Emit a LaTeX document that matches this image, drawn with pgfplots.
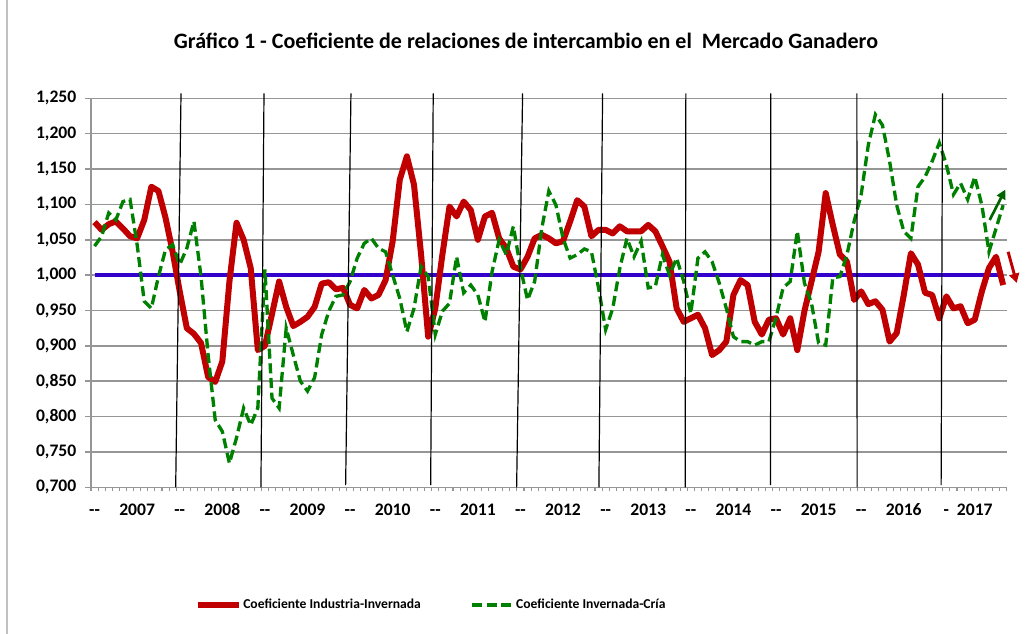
\documentclass[border=0pt]{standalone}
\usepackage{fontspec}
\setmainfont{Carlito}
\usepackage{pgfplots}
\pgfplotsset{compat=1.18}
\usetikzlibrary{arrows.meta}
\definecolor{cRed}{RGB}{192,0,0}
\definecolor{cGreen}{RGB}{0,128,0}
\definecolor{cDGreen}{RGB}{0,100,0}
\definecolor{cBlue}{RGB}{51,0,204}
\definecolor{cGrid}{RGB}{150,150,150}
\newcommand{\dd}{{-}{-}}
\begin{document}
\begin{tikzpicture}
\path[use as bounding box] (0,0) rectangle (775.5pt,-474.75pt);
\draw[cGrid!60, line width=0.8pt] (5.25pt,2pt) -- (5.25pt,-480pt);
\node[font=\bfseries\fontsize{16.5}{19}\selectfont, anchor=base] at (394.5pt,-36.5pt) {Gráfico 1 - Coeficiente de relaciones de intercambio en el\ \ Mercado Ganadero};
\begin{axis}[
  at={(68.25pt,-365.475pt)}, anchor=south west,
  scale only axis, width=686.775pt, height=291.75pt,
  xmin=-0.5, xmax=128.5, ymin=0.7, ymax=1.25,
  clip=false,
  axis x line*=bottom, axis y line*=left,
  axis line style={cGrid, line width=1.2pt},
  tick align=outside,
  major tick length=4.5pt, minor tick length=3pt,
  ytick={0.70,0.75,0.80,0.85,0.90,0.95,1.00,1.05,1.10,1.15,1.20,1.25},
  ymajorgrids, grid style={cGrid, line width=1.2pt},
  major y tick style={cGrid, line width=1.2pt},
  yticklabel style={/pgf/number format/.cd, fixed, fixed zerofill, precision=3, use comma, 1000 sep={}, assume math mode=true, /tikz/.cd, xshift=-3pt},
  xtick={0,6,12,18,24,30,36,42,48,54,60,66,72,78,84,90,96,102,108,114,120,124},
  xticklabels={\dd,2007,\dd,2008,\dd,2009,\dd,2010,\dd,2011,\dd,2012,\dd,2013,\dd,2014,\dd,2015,\dd,2016,-,2017},
  major x tick style={draw=none},
  minor xtick={-0.5,0.5,...,128.5},
  minor x tick style={cGrid, line width=0.8pt},
  xmajorgrids=false, xminorgrids=false,
  ticklabel style={font=\bfseries\fontsize{13.2}{15}\selectfont},
  xticklabel style={anchor=base, yshift=-17pt, text height=1.6ex, text depth=0.2ex},
  legend columns=2,
  legend style={at={(0.371,-0.3026)}, anchor=center, draw=none, fill=none,
    font=\bfseries\fontsize{10.2}{12}\selectfont,
    nodes={inner xsep=1pt},
    /tikz/every even column/.append style={column sep=36pt}},
  legend image code/.code={\draw[#1] (0pt,0pt) -- (31pt,0pt);},
]
\addplot[cBlue, line width=2.5pt, forget plot] coordinates {(0,1.0) (128,1.0)};
\addplot[cRed, line width=4.5pt, line join=round] coordinates {
(0,1.075) (1,1.064) (2,1.072) (3,1.076) (4,1.066) (5,1.055) (6,1.052) (7,1.078) (8,1.125) (9,1.119)
(10,1.081) (11,1.033) (12,0.977) (13,0.925) (14,0.917) (15,0.904) (16,0.856) (17,0.849) (18,0.878) (19,0.991)
(20,1.074) (21,1.050) (22,1.010) (23,0.894) (24,0.900) (25,0.945) (26,0.991) (27,0.955) (28,0.928) (29,0.934)
(30,0.941) (31,0.955) (32,0.988) (33,0.990) (34,0.980) (35,0.982) (36,0.958) (37,0.953) (38,0.979) (39,0.967)
(40,0.972) (41,0.993) (42,1.048) (43,1.135) (44,1.168) (45,1.128) (46,1.029) (47,0.913) (48,0.953) (49,1.029)
(50,1.097) (51,1.083) (52,1.104) (53,1.092) (54,1.050) (55,1.083) (56,1.088) (57,1.052) (58,1.038) (59,1.012)
(60,1.008) (61,1.026) (62,1.052) (63,1.057) (64,1.052) (65,1.045) (66,1.048) (67,1.076) (68,1.106) (69,1.097)
(70,1.055) (71,1.064) (72,1.064) (73,1.059) (74,1.069) (75,1.062) (76,1.062) (77,1.062) (78,1.071) (79,1.062)
(80,1.041) (81,1.019) (82,0.953) (83,0.934) (84,0.939) (85,0.944) (86,0.925) (87,0.887) (88,0.894) (89,0.906)
(90,0.972) (91,0.993) (92,0.986) (93,0.934) (94,0.916) (95,0.937) (96,0.939) (97,0.916) (98,0.939) (99,0.894)
(100,0.949) (101,0.991) (102,1.033) (103,1.116) (104,1.071) (105,1.029) (106,1.019) (107,0.965) (108,0.977) (109,0.959)
(110,0.963) (111,0.951) (112,0.906) (113,0.918) (114,0.972) (115,1.031) (116,1.015) (117,0.975) (118,0.972) (119,0.939)
(120,0.970) (121,0.953) (122,0.956) (123,0.932) (124,0.937) (125,0.977) (126,1.010) (127,1.026) (128,0.986)
};
\addlegendentry{Coeficiente Industria-Invernada}
\addplot[cGreen, line width=2.5pt, dash pattern=on 7.5pt off 3.5pt] coordinates {
(0,1.041) (1,1.055) (2,1.088) (3,1.078) (4,1.104) (5,1.107) (6,1.043) (7,0.963) (8,0.953) (9,0.998)
(10,1.036) (11,1.043) (12,1.015) (13,1.038) (14,1.076) (15,0.998) (16,0.887) (17,0.795) (18,0.779) (19,0.734)
(20,0.770) (21,0.812) (22,0.788) (23,0.812) (24,1.008) (25,0.826) (26,0.812) (27,0.925) (28,0.887) (29,0.850)
(30,0.836) (31,0.855) (32,0.916) (33,0.949) (34,0.970) (35,0.972) (36,0.991) (37,1.024) (38,1.045) (39,1.052)
(40,1.038) (41,1.033) (42,1.000) (43,0.967) (44,0.920) (45,0.953) (46,1.012) (47,0.998) (48,0.916) (49,0.949)
(50,0.960) (51,1.026) (52,0.975) (53,0.986) (54,0.972) (55,0.934) (56,1.005) (57,1.050) (58,1.029) (59,1.069)
(60,1.010) (61,0.965) (62,0.991) (63,1.066) (64,1.119) (65,1.099) (66,1.052) (67,1.024) (68,1.029) (69,1.037)
(70,1.033) (71,0.982) (72,0.923) (73,0.953) (74,1.010) (75,1.052) (76,1.026) (77,1.048) (78,0.982) (79,0.984)
(80,1.029) (81,1.000) (82,1.024) (83,0.991) (84,0.946) (85,1.024) (86,1.033) (87,1.019) (88,0.989) (89,0.953)
(90,0.913) (91,0.906) (92,0.906) (93,0.901) (94,0.906) (95,0.906) (96,0.940) (97,0.982) (98,0.991) (99,1.062)
(100,0.989) (101,0.960) (102,0.904) (103,0.901) (104,0.996) (105,0.998) (106,1.029) (107,1.076) (108,1.114) (109,1.184)
(110,1.227) (111,1.212) (112,1.161) (113,1.099) (114,1.062) (115,1.052) (116,1.125) (117,1.139) (118,1.161) (119,1.187)
(120,1.156) (121,1.114) (122,1.130) (123,1.107) (124,1.139) (125,1.099) (126,1.033) (127,1.066) (128,1.099)
};
\addlegendentry{Coeficiente Invernada-Cría}
% hand-drawn year separators
\draw[black, line width=0.9pt] (axis cs:12.18,1.257) -- (axis cs:11.43,0.7);
\draw[black, line width=0.9pt] (axis cs:23.87,1.257) -- (axis cs:23.44,0.7);
\draw[black, line width=0.9pt] (axis cs:36.12,1.257) -- (axis cs:35.37,0.703);
\draw[black, line width=0.9pt] (axis cs:47.71,1.257) -- (axis cs:47.35,0.703);
\draw[black, line width=0.9pt] (axis cs:60.30,1.257) -- (axis cs:59.46,0.7);
\draw[black, line width=0.9pt] (axis cs:71.57,1.257) -- (axis cs:71.05,0.7);
\draw[black, line width=0.9pt] (axis cs:83.30,1.257) -- (axis cs:83.20,0.7);
\draw[black, line width=0.9pt] (axis cs:95.27,1.257) -- (axis cs:95.23,0.703);
\draw[black, line width=0.9pt] (axis cs:107.39,1.257) -- (axis cs:107.43,0.7);
\draw[black, line width=0.9pt] (axis cs:119.46,1.257) -- (axis cs:119.26,0.703);
% trend arrows
\draw[cDGreen, line width=2pt, -{Triangle[length=7pt,width=7pt]}] (axis cs:126.1,1.078) -- (axis cs:128.3,1.121);
\draw[cRed, line width=2.2pt, -{Triangle[length=7pt,width=7.5pt]}] (axis cs:128.7,1.033) -- (axis cs:129.9,0.989);
\end{axis}
\end{tikzpicture}
\end{document}
